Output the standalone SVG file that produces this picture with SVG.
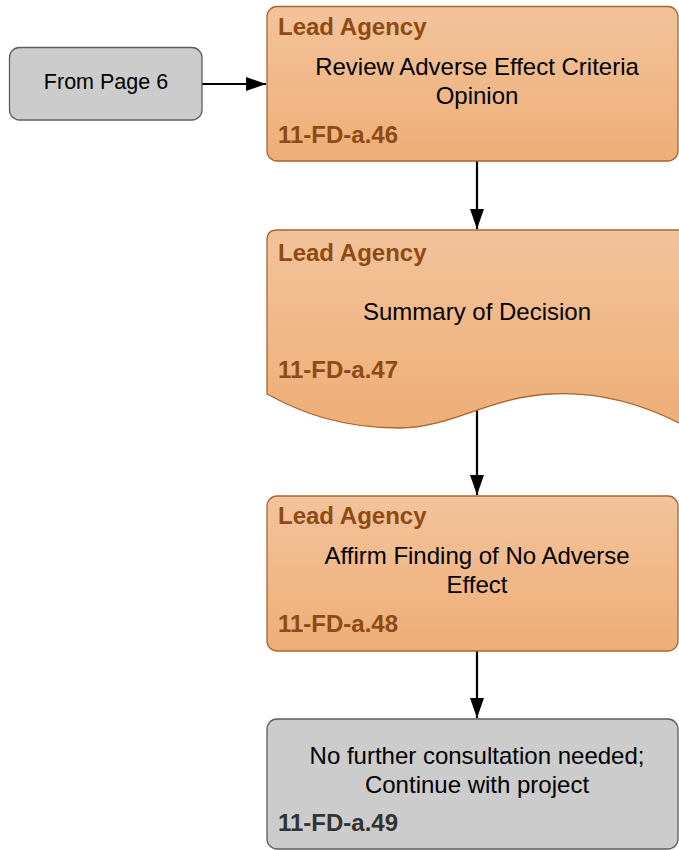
<svg xmlns="http://www.w3.org/2000/svg" width="679" height="850" viewBox="0 0 679 850">
<defs>
<linearGradient id="og" x1="0" y1="0" x2="0" y2="1">
<stop offset="0" stop-color="#f3c39b"/>
<stop offset="1" stop-color="#eeae77"/>
</linearGradient>
<marker id="ah" markerWidth="20" markerHeight="14" refX="20" refY="7" orient="auto" markerUnits="userSpaceOnUse">
<path d="M0,0 L20,7 L0,14 Z" fill="#000"/>
</marker>
<style>
.o{fill:url(#og);stroke:#a8652e;stroke-width:1.3}
.g{fill:#cccccc;stroke:#5e5e5e;stroke-width:1.3}
.t{font-family:"Liberation Sans",Arial,sans-serif;font-size:24px;fill:#000;text-anchor:middle}
.h{font-family:"Liberation Sans",Arial,sans-serif;font-size:24px;font-weight:bold;fill:#8e4a14}
.hg{font-family:"Liberation Sans",Arial,sans-serif;font-size:24px;font-weight:bold;fill:#333}
.c{stroke:#000;stroke-width:2.2;fill:none;marker-end:url(#ah)}
</style>
</defs>
<rect width="679" height="850" fill="#fff"/>
<g id="connectors">
<line class="c" x1="202" y1="84" x2="266" y2="84"/>
<line class="c" x1="477" y1="161" x2="477" y2="229"/>
<line class="c" x1="477" y1="410" x2="477" y2="495"/>
<line class="c" x1="477" y1="651" x2="477" y2="718"/>
</g>
<g id="from-page-6">
<rect class="g" x="9.5" y="47.5" width="192.5" height="72.5" rx="10"/>
<text class="t" x="106" y="89" style="font-size:21.5px">From Page 6</text>
</g>
<g id="n46">
<rect class="o" x="267" y="6.5" width="411" height="154.5" rx="10"/>
<text class="h" x="278" y="35">Lead Agency</text>
<text class="t" x="477" y="75">Review Adverse Effect Criteria</text>
<text class="t" x="477" y="104">Opinion</text>
<text class="h" x="278" y="143">11-FD-a.46</text>
</g>
<g id="n47">
<path class="o" d="M267,240 Q267,230 277,230 L690,230 L690,428 L679,423 C630,398 585,392 550,394 C490,397 450,428 400,428 C340,428 300,412 267,394 Z"/>
<text class="h" x="278" y="261">Lead Agency</text>
<text class="t" x="477" y="320">Summary of Decision</text>
<text class="h" x="278" y="378">11-FD-a.47</text>
</g>
<g id="n48">
<rect class="o" x="267" y="496" width="411" height="155" rx="10"/>
<text class="h" x="278" y="524">Lead Agency</text>
<text class="t" x="477" y="564">Affirm Finding of No Adverse</text>
<text class="t" x="477" y="593">Effect</text>
<text class="h" x="278" y="632">11-FD-a.48</text>
</g>
<g id="n49">
<rect class="g" x="267" y="719" width="411" height="130" rx="10"/>
<text class="t" x="477" y="764">No further consultation needed;</text>
<text class="t" x="477" y="793">Continue with project</text>
<text class="hg" x="278" y="831">11-FD-a.49</text>
</g>
</svg>
